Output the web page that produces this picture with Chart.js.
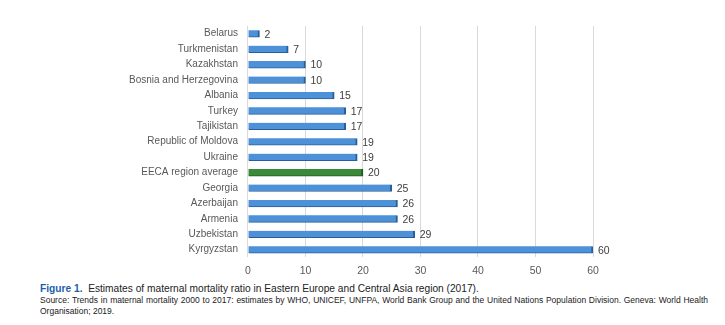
<!DOCTYPE html>
<html lang="en">
<head>
<meta charset="utf-8" />
<script src="https://cdn.jsdelivr.net/npm/chart.js@4"></script>
<style>
  body { margin: 0; background: #fff; }
  #box { position: relative; width: 725px; height: 288px; }
  .cap { margin: 0 0 0 40px; width: 668px; font-family: "Liberation Sans Narrow", "Liberation Sans", sans-serif; font-size: 10.2px; color: #222; line-height: 12px; }
  .cap b { color: #1d5ea8; }
  .first { margin-top: -5px; }
  .src { font-size: 8.5px; line-height: 11px; margin-top: 0; text-align: justify; text-align-last: left; }
</style>
<script>
  // values (2017, per 100 000 live births)
  var countries = ['Belarus','Turkmenistan','Kazakhstan','Bosnia and Herzegovina','Albania','Turkey',
                   'Tajikistan','Republic of Moldova','Ukraine','EECA region average','Georgia',
                   'Azerbaijan','Armenia','Uzbekistan','Kyrgyzstan'];
  var mmr = [2,7,10,10,15,17,17,19,19,20,25,26,26,29,60];
  var xTicks = [0,10,20,30,40,50,60];
  var highlight = 'EECA region average';
</script>
</head>
<body>
<div id="box"><canvas id="c"></canvas></div>
<div class="cap first"><b>Figure 1.</b>&nbsp; Estimates of maternal mortality ratio in Eastern Europe and Central Asia region (2017).</div>
<div class="cap src">Source: Trends in maternal mortality 2000 to 2017: estimates by WHO, UNICEF, UNFPA, World Bank Group and the United Nations Population Division. Geneva: World Health Organisation; 2019.</div>
<script>
  // etichette dei valori a destra delle barre
  const valueLabels = {
    id: 'valueLabels',
    afterDatasetsDraw(chart) {
      const ctx = chart.ctx;
      ctx.save();
      ctx.font = '10.5px "Liberation Sans", sans-serif';
      ctx.fillStyle = '#404040';
      ctx.textBaseline = 'middle';
      chart.getDatasetMeta(0).data.forEach((bar, i) => {
        ctx.fillText(mmr[i], bar.x + 5, bar.y + 1);
      });
      ctx.restore();
    }
  };

  const colors = countries.map(c => c === highlight ? '#3a8a3a' : '#4d92d8');
  const edges = countries.map(c => c === highlight ? '#1f5a1f' : '#2a5e98');

  new Chart(document.getElementById('c'), {
    type: 'bar',
    data: {
      labels: countries,
      datasets: [{
        data: mmr,
        backgroundColor: colors,
        borderColor: edges,
        borderWidth: { right: 2, bottom: 1, top: 0, left: 0 },
        borderSkipped: false,
        barThickness: 7
      }]
    },
    options: {
      indexAxis: 'y',
      responsive: true,
      maintainAspectRatio: false,
      animation: false,
      layout: { padding: { top: 26, left: 119, right: 132, bottom: 4 } },
      plugins: { legend: { display: false }, tooltip: { enabled: false } },
      scales: {
        x: {
          min: 0, max: 60,
          afterBuildTicks: axis => { axis.ticks = xTicks.map(v => ({ value: v })); },
          grid: { color: '#d9d9d9', drawTicks: false },
          border: { display: false },
          ticks: { color: '#595959', font: { size: 10.5, family: '"Liberation Sans", sans-serif' }, padding: 7 }
        },
        y: {
          grid: { display: false, drawTicks: false },
          border: { display: false },
          ticks: { color: '#595959', font: { size: 10, family: '"Liberation Sans", sans-serif' }, padding: 10 }
        }
      }
    },
    plugins: [valueLabels]
  });
</script>
</body>
</html>
